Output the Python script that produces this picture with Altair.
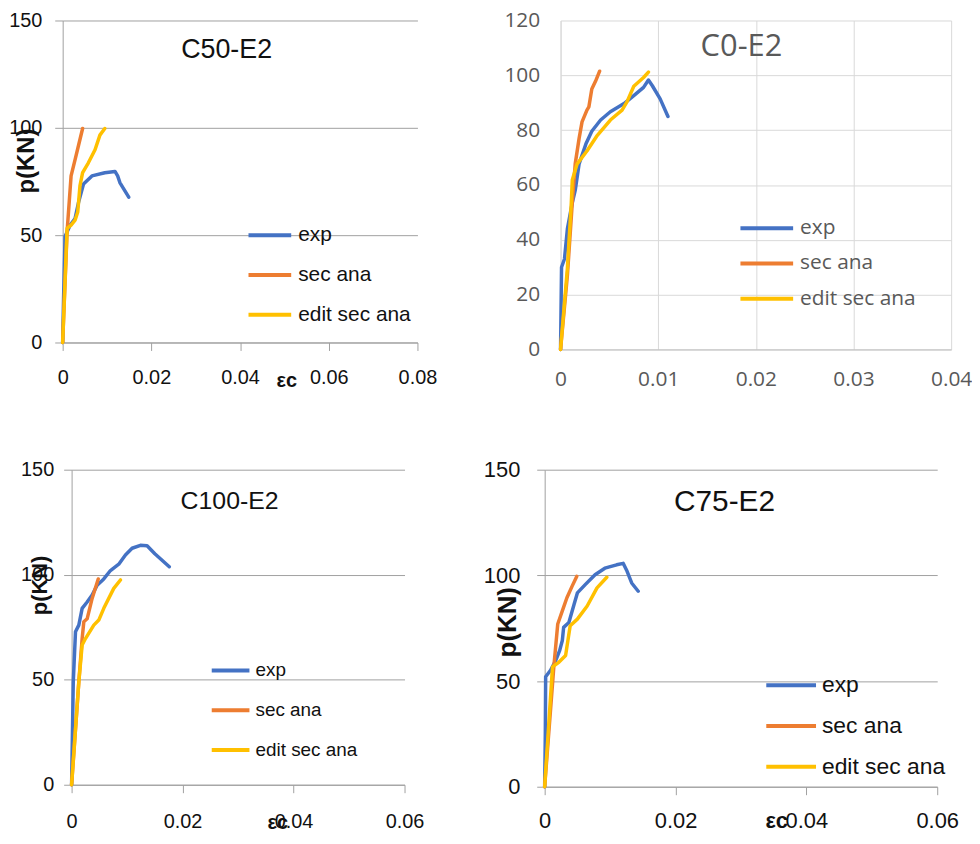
import altair as alt
import pandas as pd

SERIES = ["exp", "sec ana", "edit sec ana"]
COLORS = ["#4472C4", "#ED7D31", "#FFC000"]

# ---- C50-E2 ----
c50_exp_x = [0, 0.0002, 0.00054, 0.0017, 0.0028, 0.0036, 0.0047, 0.0066, 0.0095, 0.0118, 0.0124, 0.0129, 0.0149]
c50_exp_y = [0, 20, 49.4, 54.7, 57.8, 65.4, 73.8, 77.6, 79.1, 79.7, 77.6, 74.5, 67.7]
c50_sec_x = [0, 0.001, 0.0019, 0.0028, 0.0036, 0.0045]
c50_sec_y = [0, 51.7, 77.6, 85.2, 92, 99.7]
c50_edit_x = [0, 0.001, 0.0019, 0.0028, 0.0034, 0.0039, 0.0045, 0.0058, 0.0073, 0.0084, 0.0095]
c50_edit_y = [0, 53.2, 54.7, 57, 60.8, 73, 79.1, 83.7, 89.8, 96.6, 99.7]

# ---- C0-E2 ----
c0_exp_x = [0, 0.0001, 0.0004, 0.0007, 0.0012, 0.0015, 0.0019, 0.0026, 0.0032, 0.0041, 0.0051, 0.0065, 0.0075, 0.0085, 0.009, 0.0094, 0.0102, 0.011]
c0_exp_y = [0, 30, 33, 44, 53.5, 58, 67.7, 75, 79.6, 83.7, 86.7, 89.7, 92.6, 95.6, 98.3, 96.2, 91.4, 85]
c0_sec_x = [0, 0.0007, 0.0012, 0.0015, 0.0019, 0.0022, 0.0027, 0.0029, 0.0032, 0.0036, 0.004]
c0_sec_y = [0, 27, 53.5, 67.7, 77, 83, 87.3, 88.5, 95, 98, 101.5]
c0_edit_x = [0, 0.0007, 0.0011, 0.0012, 0.0017, 0.0027, 0.0037, 0.0051, 0.0063, 0.0068, 0.0075, 0.0085, 0.009]
c0_edit_y = [0, 29.7, 53.5, 61.8, 67.7, 72.4, 77.8, 83.7, 87.3, 90.3, 96, 99.2, 101.2]

# ---- C100-E2 ----
c100_exp_x = [0, 0.0003, 0.0007, 0.0013, 0.0019, 0.0028, 0.0037, 0.0046, 0.0058, 0.007, 0.0085, 0.0097, 0.0109, 0.0124, 0.0136, 0.015, 0.0176]
c100_exp_y = [0, 49, 72.8, 76, 84, 87, 90.3, 95, 98, 102, 105, 109.4, 112.6, 114, 113.8, 110, 103.8]
c100_sec_x = [0, 0.0013, 0.0019, 0.0022, 0.0028, 0.0037, 0.0048]
c100_sec_y = [0, 49, 69.6, 77.6, 79, 88.7, 98]
c100_edit_x = [0, 0.0013, 0.0019, 0.0025, 0.004, 0.0049, 0.0058, 0.0076, 0.0088]
c100_edit_y = [0, 49, 66.5, 69.6, 76, 78.4, 84, 93.5, 97.5]

# ---- C75-E2 ----
c75_exp_x = [0, 0.0001, 0.00015, 0.0009, 0.0017, 0.0023, 0.0027, 0.0029, 0.0037, 0.0045, 0.005, 0.0062, 0.0077, 0.0092, 0.011, 0.012, 0.0126, 0.0133, 0.0143]
c75_exp_y = [0, 25, 52, 55.1, 59.8, 64.5, 69.2, 75.4, 77.7, 86.3, 91.7, 95.6, 100.3, 103.4, 105, 105.7, 101.9, 96.4, 92.5]
c75_sec_x = [0, 0.0014, 0.002, 0.0027, 0.0034, 0.0042, 0.0049]
c75_sec_y = [0, 56.7, 77, 83.2, 89.4, 94.9, 99.5]
c75_edit_x = [0, 0.0012, 0.0022, 0.0032, 0.0039, 0.005, 0.0065, 0.008, 0.0095]
c75_edit_y = [0, 56.7, 59, 62.1, 76.2, 79.3, 85.5, 94.1, 99.1]

SANS = "Liberation Sans, Arial, sans-serif"
OPEN = "Open Sans, sans-serif"


def frame(exp_x, exp_y, sec_x, sec_y, edit_x, edit_y):
    rows = []
    for name, xs, ys in [("exp", exp_x, exp_y), ("sec ana", sec_x, sec_y), ("edit sec ana", edit_x, edit_y)]:
        for i, (x, y) in enumerate(zip(xs, ys)):
            rows.append({"series": name, "strain": x, "load": y, "order": i})
    return pd.DataFrame(rows)


def panel(df, title, w, h, x_dom, x_vals, y_dom, y_vals, xaxis, yaxis, legend, tparams):
    return alt.Chart(df).mark_line(
        strokeWidth=3.5, strokeCap="round", strokeJoin="round"
    ).encode(
        x=alt.X("strain:Q", scale=alt.Scale(domain=x_dom, nice=False),
                axis=alt.Axis(values=x_vals, format="~g", labelFlush=False, labelOverlap=False, **xaxis)),
        y=alt.Y("load:Q", scale=alt.Scale(domain=y_dom, nice=False),
                axis=alt.Axis(values=y_vals, labelOverlap=False, **yaxis)),
        color=alt.Color("series:N", scale=alt.Scale(domain=SERIES, range=COLORS), legend=alt.Legend(**legend)),
        order="order:Q",
    ).properties(width=w, height=h,
                 title=alt.TitleParams(title, anchor="middle", frame="group", baseline="middle", **tparams))


def spacer(w):
    return alt.Chart(pd.DataFrame({"s": [""]})).mark_text(opacity=0).encode(text="s:N").properties(width=w, height=1)


def legend_cfg(x, y, s, k, off, rowpad, size, font, color):
    return dict(
        orient="none", legendX=x, legendY=y, title=None, padding=0,
        symbolType="M-1,0H%.3f" % k, symbolSize=s * s, symbolStrokeWidth=4,
        labelOffset=off, rowPadding=rowpad, labelFontSize=size, labelFont=font, labelColor=color,
    )


G = "#a0a0a0"
BLACK = "#111111"

p1 = panel(
    frame(c50_exp_x, c50_exp_y, c50_sec_x, c50_sec_y, c50_edit_x, c50_edit_y), "C50-E2", 357, 324,
    [0, 0.08], [0, 0.02, 0.04, 0.06, 0.08], [0, 150], [0, 50, 100, 150],
    dict(grid=False, domainColor=G, tickColor=G, tickSize=8, labelPadding=17, labelFont=SANS, labelFontSize=20, labelColor=BLACK,
         title="εc", titleFont=SANS, titleFontSize=20, titleFontWeight="bold", titleColor=BLACK, titleX=225, titleY=38,
         titleAngle=0, titleBaseline="middle", titleAlign="center"),
    dict(grid=True, gridColor=G, domainColor=G, tickColor=G, tickSize=8, labelPadding=13, labelFont=SANS, labelFontSize=20, labelColor=BLACK,
         title="p(KN)", titleFont=SANS, titleFontSize=24, titleFontWeight="bold", titleColor=BLACK, titleX=-36, titleY=141,
         titleAngle=270, titleBaseline="middle", titleAlign="center"),
    legend_cfg(185, 202, 24, 2.58, 24, 16, 21, SANS, BLACK),
    dict(fontSize=27, font=SANS, fontWeight="normal", color=BLACK, dx=-13.5, offset=-67),
)

p2 = panel(
    frame(c0_exp_x, c0_exp_y, c0_sec_x, c0_sec_y, c0_edit_x, c0_edit_y), "C0-E2", 393, 331,
    [0, 0.04], [0, 0.01, 0.02, 0.03, 0.04], [0, 120], [0, 20, 40, 60, 80, 100, 120],
    dict(grid=True, gridColor="#d9d9d9", domainColor="#bfbfbf", ticks=False, labelPadding=19, labelFont=OPEN,
         labelFontSize=21, labelColor="#595959", title=None),
    dict(grid=True, gridColor="#d9d9d9", domainColor="#d9d9d9", ticks=False, labelPadding=21, labelFont=OPEN,
         labelFontSize=21, labelColor="#595959", title=None),
    legend_cfg(179, 196, 22, 3.82, 36, 12.5, 21, OPEN, "#595959"),
    dict(fontSize=31, font=OPEN, fontWeight="normal", color="#595959", dx=-14.5, offset=-68.5),
)

p3 = panel(
    frame(c100_exp_x, c100_exp_y, c100_sec_x, c100_sec_y, c100_edit_x, c100_edit_y), "C100-E2", 335, 317,
    [0, 0.06], [0, 0.02, 0.04, 0.06], [0, 150], [0, 50, 100, 150],
    dict(grid=False, domainColor=G, tickColor=G, tickSize=8, labelPadding=19, labelFont=SANS, labelFontSize=20, labelColor=BLACK,
         title="εc", titleFont=SANS, titleFontSize=20, titleFontWeight="bold", titleColor=BLACK, titleX=207, titleY=38,
         titleAngle=0, titleBaseline="middle", titleAlign="center"),
    dict(grid=True, gridColor=G, domainColor=G, tickColor=G, tickSize=8, labelPadding=10, labelFont=SANS, labelFontSize=20, labelColor=BLACK,
         title="p(KN)", titleFont=SANS, titleFontSize=22, titleFontWeight="bold", titleColor=BLACK, titleX=-32.5, titleY=116,
         titleAngle=270, titleBaseline="middle", titleAlign="center"),
    legend_cfg(139, 189, 22, 2.45, 20, 17, 19, SANS, BLACK),
    dict(fontSize=25, font=SANS, fontWeight="normal", color=BLACK, dx=-8.5, offset=-67),
)

p4 = panel(
    frame(c75_exp_x, c75_exp_y, c75_sec_x, c75_sec_y, c75_edit_x, c75_edit_y), "C75-E2", 395, 319,
    [0, 0.06], [0, 0.02, 0.04, 0.06], [0, 150], [0, 50, 100, 150],
    dict(grid=False, domainColor=G, tickColor=G, tickSize=8, labelPadding=16, labelFont=SANS, labelFontSize=22, labelColor=BLACK,
         title="εc", titleFont=SANS, titleFontSize=22, titleFontWeight="bold", titleColor=BLACK, titleX=233, titleY=34,
         titleAngle=0, titleBaseline="middle", titleAlign="center"),
    dict(grid=True, gridColor=G, domainColor=G, tickColor=G, tickSize=8, labelPadding=17, labelFont=SANS, labelFontSize=22, labelColor=BLACK,
         title="p(KN)", titleFont=SANS, titleFontSize=26, titleFontWeight="bold", titleColor=BLACK, titleX=-37, titleY=153,
         titleAngle=270, titleBaseline="middle", titleAlign="center"),
    legend_cfg(221, 202, 26, 2.85, 28, 14, 23, SANS, BLACK),
    dict(fontSize=30, font=SANS, fontWeight="normal", color=BLACK, dx=-16.5, offset=-74),
)

row1 = alt.hconcat(spacer(54), p1, spacer(144), p2, spacing=0, bounds="flush").resolve_scale(color="independent")
row2 = alt.hconcat(spacer(63), p3, spacer(141), p4, spacing=0, bounds="flush").resolve_scale(color="independent")

chart = alt.vconcat(row1, row2, spacing=69).resolve_scale(color="independent").properties(
    padding={"left": 0, "top": -1, "right": 0, "bottom": 0}
).configure_view(strokeWidth=0)

chart.save("out.html", embed_options={"renderer": "svg", "actions": False})
